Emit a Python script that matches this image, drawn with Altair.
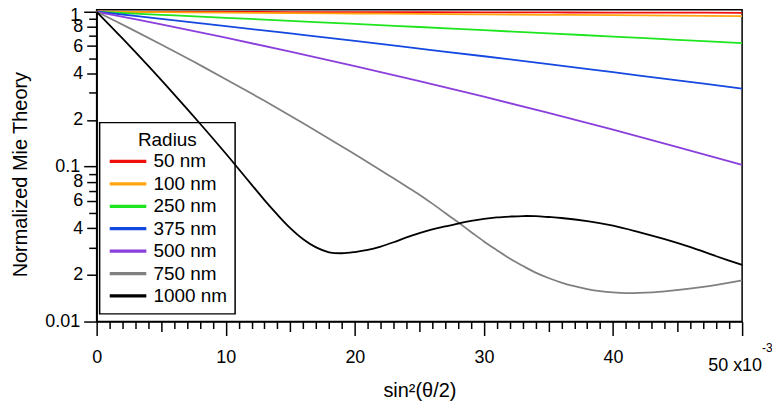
import json
import altair as alt
import pandas as pd

# ---------------- data ----------------
radii = ["50 nm", "100 nm", "250 nm", "375 nm", "500 nm", "750 nm", "1000 nm"]
colors = ["#F20D0D", "#FFA510", "#1EE61E", "#1448E0", "#8A3FDC", "#808080", "#000000"]

x_small = [0, 5, 10, 15, 20, 25, 30, 35, 40, 45, 50]
y_50 = [1.0, 0.9985, 0.997, 0.9955, 0.994, 0.9925, 0.991, 0.9895, 0.988, 0.9865, 0.985]
y_100 = [1.0, 0.9935, 0.987, 0.981, 0.9745, 0.968, 0.962, 0.956, 0.950, 0.9435, 0.937]
y_250 = [1.0, 0.956, 0.914, 0.874, 0.834, 0.797, 0.760, 0.725, 0.692, 0.659, 0.628]
y_375 = [1.0, 0.900, 0.808, 0.724, 0.648, 0.578, 0.516, 0.459, 0.407, 0.361, 0.319]
y_500 = [1.0, 0.828, 0.680, 0.553, 0.446, 0.357, 0.283, 0.2225, 0.1734, 0.1338, 0.1025]

x_750 = [0, 2.5, 5, 7.5, 10, 13, 16, 19, 20, 21, 22, 23, 24, 25, 26, 27, 28, 29, 30,
         31, 32, 33, 34, 35, 36, 37, 38, 39, 40, 41, 42, 44, 47, 50]
y_750 = [1.0, 0.787, 0.615, 0.477, 0.367, 0.266, 0.1905, 0.1351, 0.1202, 0.1069,
         0.0948, 0.0841, 0.0745, 0.0659, 0.0577, 0.0502, 0.0437, 0.0379, 0.0329,
         0.0289, 0.0255, 0.0229, 0.0207, 0.0191, 0.01786, 0.01692, 0.01622,
         0.01572, 0.01542, 0.01526, 0.01531, 0.01567, 0.01673, 0.01843]

x_1000 = [0, 2, 4, 6, 8, 10, 11, 12, 13, 14, 15, 16, 17, 18, 19, 20, 21, 22, 23, 24,
          25, 26, 27, 28, 29, 30, 31, 32, 33, 34, 35, 36, 38, 40, 42, 44, 46, 48, 50]
y_1000 = [1.0, 0.673, 0.447, 0.293, 0.19, 0.1216, 0.0966, 0.0766, 0.0608, 0.049,
          0.0401, 0.0340, 0.0301, 0.0280, 0.0276, 0.0281, 0.0290, 0.0305, 0.0325,
          0.0349, 0.0372, 0.0393, 0.0411, 0.0429, 0.0446, 0.0460, 0.0470, 0.0476,
          0.0480, 0.0479, 0.0473, 0.0466, 0.0445, 0.0416, 0.0378, 0.0340, 0.0302,
          0.0264, 0.0232]

x_ticks = list(range(0, 51))
y_ticks = [0.01, 0.02, 0.03, 0.04, 0.05, 0.06, 0.07, 0.08, 0.09,
           0.1, 0.2, 0.3, 0.4, 0.5, 0.6, 0.7, 0.8, 0.9, 1]
y_tick_labels = ["0.01", "2", "", "4", "", "6", "", "8", "",
                 "0.1", "2", "", "4", "", "6", "", "8", "", "1"]

exp_x = [50]
exp_mantissa = ["50 x10"]
exp_power = ["-3"]

# ---------------- table ----------------
series = [
    (radii[0], x_small, y_50),
    (radii[1], x_small, y_100),
    (radii[2], x_small, y_250),
    (radii[3], x_small, y_375),
    (radii[4], x_small, y_500),
    (radii[5], x_750, y_750),
    (radii[6], x_1000, y_1000),
]
rows = []
for name, xs, ys in series:
    for xv, yv in zip(xs, ys):
        rows.append({"x": xv, "y": yv, "radius": name})
df = pd.DataFrame(rows)
exp_df = pd.DataFrame({"x": exp_x, "mant": exp_mantissa, "pw": exp_power})

FONT = "Liberation Sans"

y_label_expr = f"{json.dumps(y_tick_labels)}[indexof({json.dumps(y_ticks)}, datum.value)]"
y_tick_expr = ("indexof([1,0.1,0.01], datum.value) >= 0 ? 13 : "
               "(indexof([0.8,0.6,0.4,0.2,0.08,0.06,0.04,0.02], datum.value) >= 0 ? 10 : 8)")
x_tick_expr = "datum.value % 10 == 0 ? 14 : (datum.value % 5 == 0 ? 10 : 7)"

x_axis = alt.Axis(
    values=x_ticks, format="d",
    labelExpr="datum.value % 10 == 0 && datum.value < 50 ? datum.label : ''",
    tickSize={"expr": x_tick_expr},
    labelFlush=False, labelOverlap=False, labelPadding=13.5, labelFontSize=18,
    title="sin²(θ/2)", titleFontSize=20, titleFontWeight="normal",
    titleY=75, titleBaseline="alphabetic", grid=False,
)
x_scale = alt.Scale(domain=[0, 50], nice=False)

lines = alt.Chart(df).mark_line(strokeWidth=1.8, interpolate="catmull-rom").encode(
    x=alt.X("x:Q", scale=x_scale, axis=x_axis),
    y=alt.Y(
        "y:Q",
        scale=alt.Scale(type="log", domain=[0.01, 1.03], nice=False),
        axis=alt.Axis(
            values=y_ticks, labelExpr=y_label_expr,
            tickSize={"expr": y_tick_expr},
            labelOffset={"expr": "datum.value == 1 ? 3.5 : 0"},
            labelFlush=False, labelOverlap=False, labelPadding=4, labelFontSize=18,
            title="Normalized Mie Theory", titleFontSize=20, titleFontWeight="normal",
            titleX=-70, titleY=165, titleAngle=-90, titleAlign="center",
            titleBaseline="alphabetic", grid=False,
        ),
    ),
    color=alt.Color(
        "radius:N",
        scale=alt.Scale(domain=radii, range=colors),
        sort=radii,
        legend=alt.Legend(
            orient="none", legendX=3, legendY=113.3,
            title="Radius", titleFontSize=19, titleFontWeight="normal",
            titleAnchor="middle", titlePadding=4,
            labelFontSize=19, labelOffset=5,
            symbolType="stroke", symbolSize=1350, symbolStrokeWidth=3.3,
            clipHeight=16, rowPadding=3.5, padding=8,
        ),
    ),
)

mant = alt.Chart(exp_df).mark_text(
    font=FONT, fontSize=18, align="center", baseline="alphabetic", dx=-7, color="black"
).encode(x=alt.X("x:Q", scale=x_scale, axis=x_axis), y=alt.value(362.7), text="mant:N")

power = alt.Chart(exp_df).mark_text(
    font=FONT, fontSize=12, align="left", baseline="alphabetic", dx=20, color="black"
).encode(x=alt.X("x:Q", scale=x_scale, axis=x_axis), y=alt.value(344), text="pw:N")

chart = (
    alt.layer(lines, mant, power)
    .properties(
        width=648, height=313,
        padding={"left": 89, "top": 1, "right": 30, "bottom": 80},
        autosize=alt.AutoSizeParams(type="none"),
    )
    .configure(font=FONT)
    .configure_view(stroke="black", strokeWidth=1.5)
    .configure_axis(
        domainColor="black", domainWidth=1.5, tickColor="black", tickWidth=1.5,
        labelColor="black", titleColor="black", labelFont=FONT, titleFont=FONT,
        labelOverlap=False,
    )
    .configure_legend(
        strokeColor="black", strokeWidth=1.5, labelFont=FONT, titleFont=FONT,
        labelColor="black", titleColor="black",
    )
)

chart.save("out.html", embed_options={"renderer": "svg", "actions": False})
